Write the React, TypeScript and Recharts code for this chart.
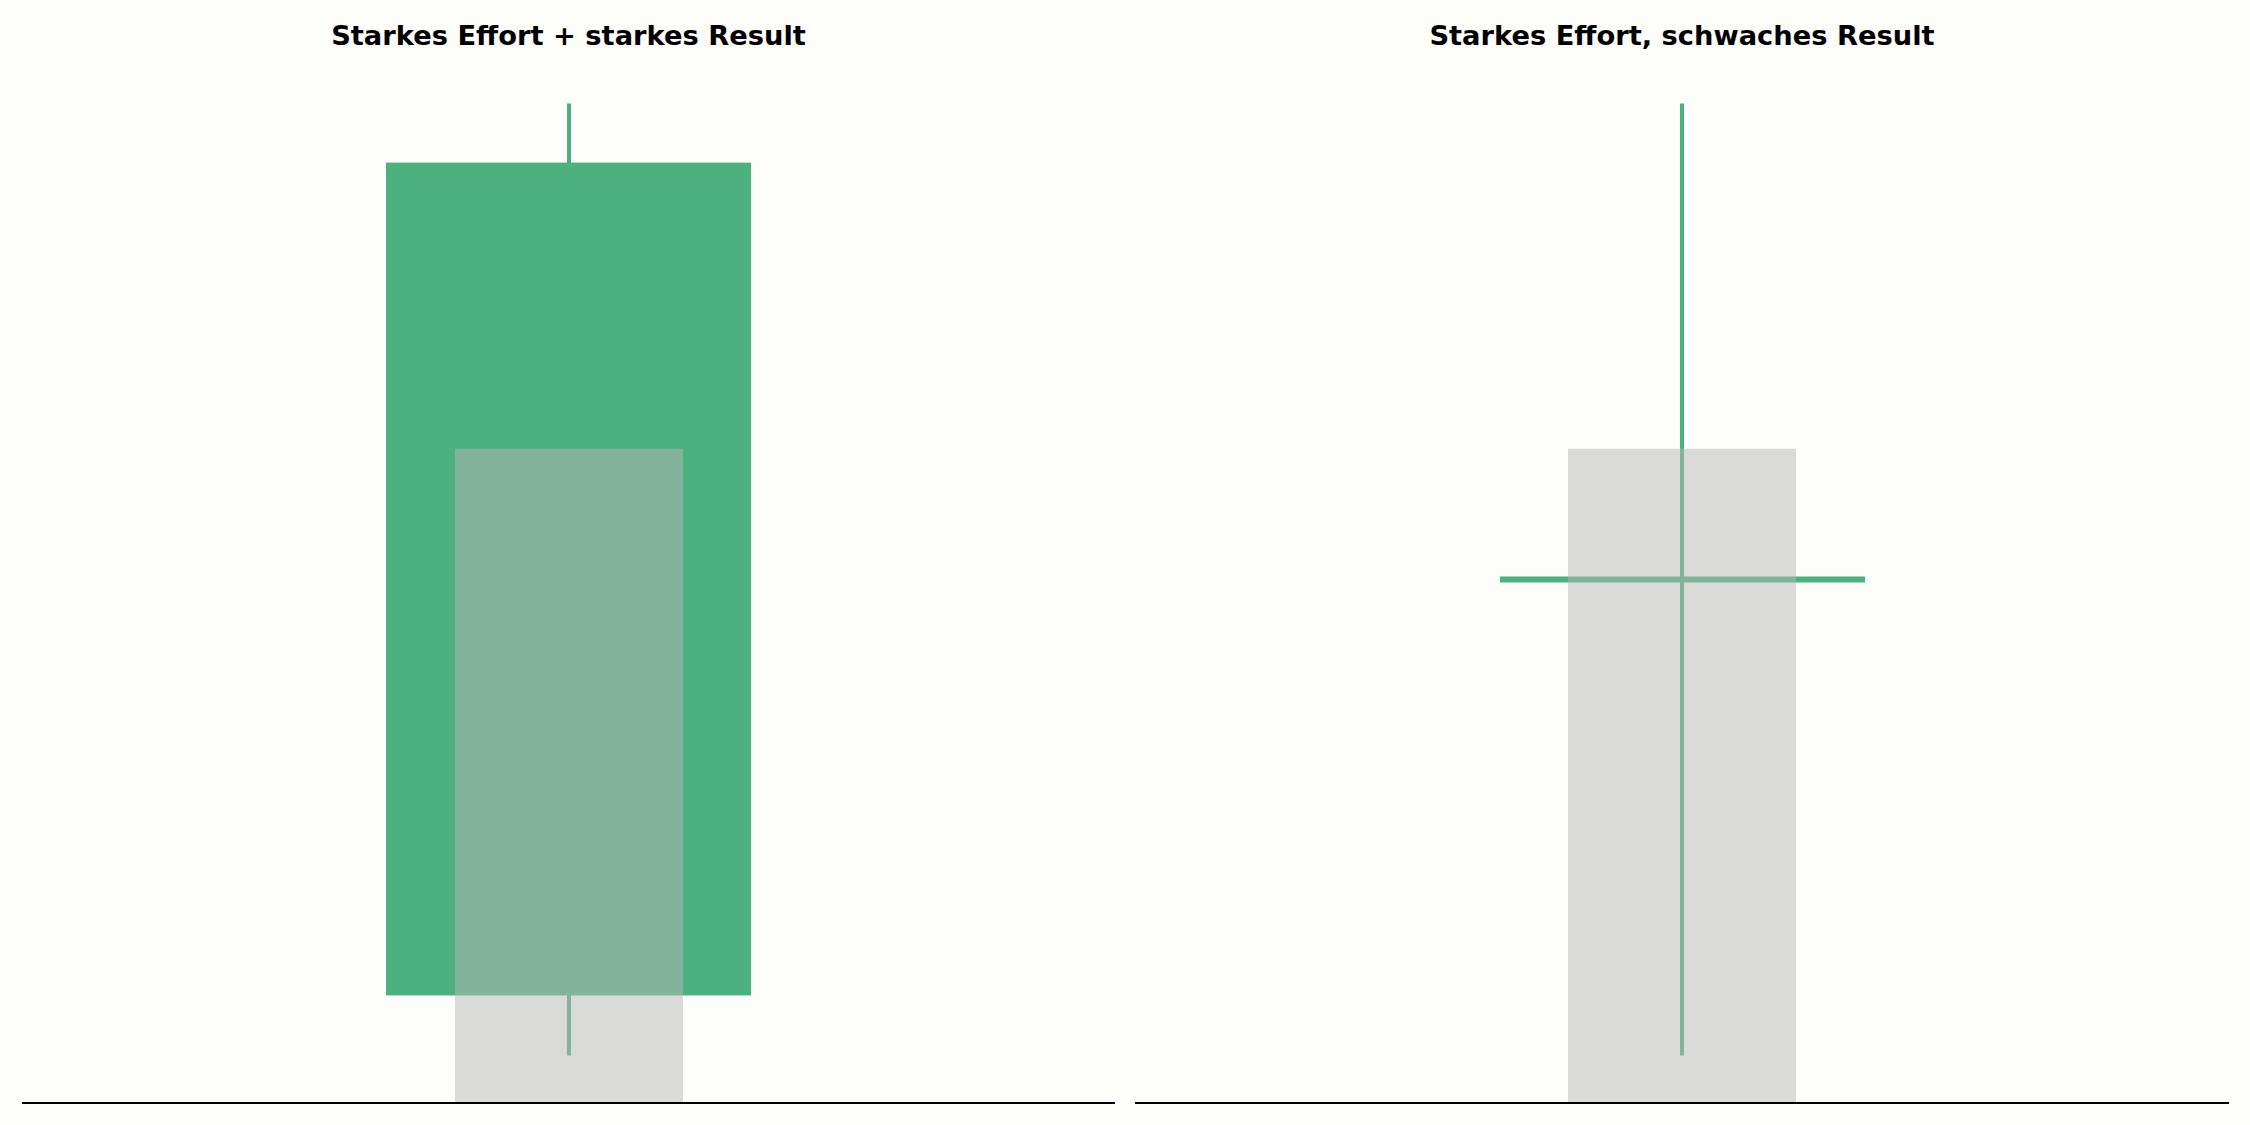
import React from 'react';
import { ComposedChart, Bar, XAxis, YAxis, ReferenceLine } from 'recharts';

// ---- data ----
const panelTitles = ['Starkes Effort + starkes Result', 'Starkes Effort, schwaches Result'];
const categories = ['Kerze 1', 'Kerze 2'];
const opens = [0.63, 5.0];
const closes = [9.38, 5.0];
const highs = [10, 10];
const lows = [0, 0];
const volumes = [100, 100];

const priceDomain = [-0.5, 10.5];
const volumeDomain = [0, 160];
const baselineVolume = 0;

// ---- styles ----
const BG = '#FDFDF9';
const GREEN = '#4DB07F';
const GRAY = '#B8B8B8';
const FONT = '"DejaVu Sans", sans-serif';

const BodyShape = (props: any) => {
  const { x, y, width, height, fill } = props;
  if (x == null || y == null) return null;
  const h = Math.abs(height || 0);
  const top = height < 0 ? y + height : y;
  if (h < 1) {
    return <line x1={x} x2={x + width} y1={y} y2={y} stroke={fill} strokeWidth={6} />;
  }
  return <rect x={x} y={top} width={width} height={h} fill={fill} />;
};

const panelLayout = [
  { left: 0, margin: { top: 56, right: 10, bottom: 22, left: 22 } },
  { left: 1125, margin: { top: 56, right: 21, bottom: 22, left: 10 } },
];

function Panel({ index }: { index: number }) {
  const row = {
    name: categories[index],
    wick: [lows[index], highs[index]],
    body: [opens[index], closes[index]],
    volume: volumes[index],
  };
  const layout = panelLayout[index];
  return (
    <div style={{ position: 'absolute', left: layout.left, top: 0 }}>
      <ComposedChart width={1125} height={1125} data={[row]} margin={layout.margin}>
        <XAxis xAxisId="wick" dataKey="name" hide />
        <XAxis xAxisId="body" dataKey="name" hide />
        <XAxis xAxisId="vol" dataKey="name" hide />
        <YAxis yAxisId="price" domain={priceDomain} allowDataOverflow hide />
        <YAxis yAxisId="volume" domain={volumeDomain} allowDataOverflow hide />
        <Bar
          xAxisId="wick"
          yAxisId="price"
          dataKey="wick"
          barSize={4}
          fill={GREEN}
          isAnimationActive={false}
        />
        <Bar
          xAxisId="body"
          yAxisId="price"
          dataKey="body"
          barSize={365}
          fill={GREEN}
          shape={BodyShape}
          isAnimationActive={false}
        />
        <Bar
          xAxisId="vol"
          yAxisId="volume"
          dataKey="volume"
          barSize={228}
          fill={GRAY}
          fillOpacity={0.5}
          isAnimationActive={false}
        />
        <ReferenceLine
          xAxisId="vol"
          yAxisId="volume"
          y={baselineVolume}
          stroke="#000000"
          strokeWidth={2}
          ifOverflow="visible"
        />
      </ComposedChart>
    </div>
  );
}

export default function App() {
  return (
    <div
      style={{
        position: 'absolute',
        left: 0,
        top: 0,
        width: 2250,
        height: 1125,
        background: BG,
        overflow: 'hidden',
      }}
    >
      <Panel index={0} />
      <Panel index={1} />
      <svg
        width={2250}
        height={1125}
        style={{ position: 'absolute', left: 0, top: 0, pointerEvents: 'none' }}
      >
        {panelTitles.map((t, i) => (
          <text
            key={t}
            x={i === 0 ? 568.5 : 1682}
            y={44.5}
            textAnchor="middle"
            fontFamily={FONT}
            fontWeight="bold"
            fontSize={27.3}
            fill="#000000"
          >
            {t}
          </text>
        ))}
      </svg>
    </div>
  );
}
